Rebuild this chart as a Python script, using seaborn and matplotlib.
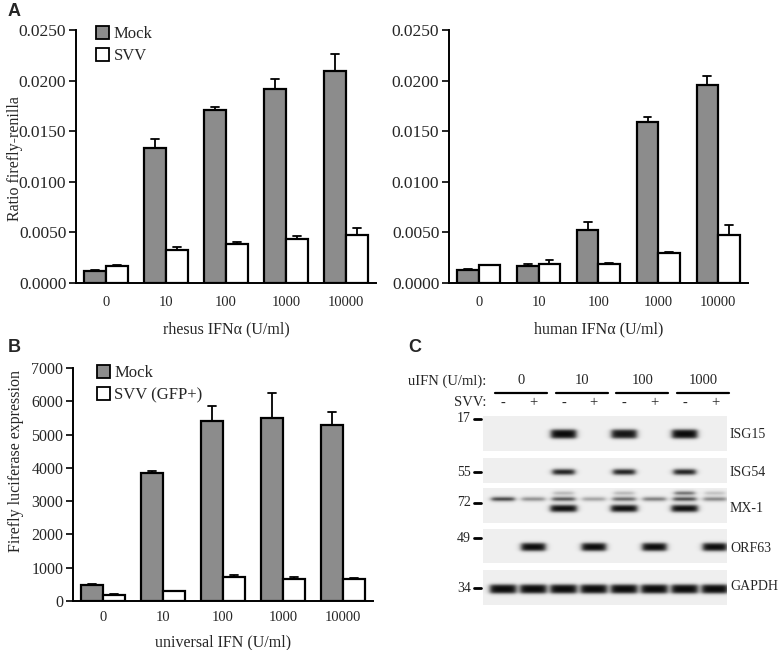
import numpy as np
import pandas as pd
import matplotlib
matplotlib.use("Agg")
import matplotlib.pyplot as plt
import seaborn as sns
from matplotlib.patches import Patch

# ---------------- data ----------------
doses = ["0", "10", "100", "1000", "10000"]

rhesus_mock = [0.00122, 0.01336, 0.01712, 0.01920, 0.02091]
rhesus_mock_err = [0.00003, 0.00085, 0.00029, 0.00098, 0.00168]
rhesus_svv = [0.00172, 0.00323, 0.00386, 0.00435, 0.00475]
rhesus_svv_err = [0.00006, 0.00030, 0.00016, 0.00030, 0.00066]

human_mock = [0.00132, 0.00168, 0.00524, 0.01593, 0.01953]
human_mock_err = [0.00003, 0.00017, 0.00080, 0.00043, 0.00088]
human_svv = [0.00178, 0.00191, 0.00191, 0.00294, 0.00478]
human_svv_err = [0.00003, 0.00040, 0.00004, 0.00016, 0.00099]

univ_mock = [480, 3840, 5400, 5500, 5300]
univ_mock_err = [40, 60, 450, 740, 370]
univ_svv = [180, 290, 710, 660, 650]
univ_svv_err = [20, 20, 60, 60, 30]

blot_ifn = ["0", "10", "100", "1000"]
blot_svv = ["-", "+", "-", "+", "-", "+", "-", "+"]
blot_markers = ["17", "55", "72", "49", "34"]
blot_proteins = ["ISG15", "ISG54", "MX-1", "ORF63", "GAPDH"]
isg15 = [0, 0, 1.0, 0, 0.95, 0, 1.0, 0]
isg54 = [0, 0, 0.95, 0, 0.95, 0, 0.95, 0]
mx1_lower = [0, 0, 1.0, 0, 1.0, 0, 1.0, 0]
mx1_mid = [0.9, 0.5, 0.8, 0.4, 0.7, 0.6, 0.85, 0.55]
mx1_top = [0, 0, 0.3, 0, 0.3, 0, 0.7, 0.25]
orf63 = [0, 1.0, 0, 1.0, 0, 1.0, 0, 1.0]
gapdh = [1.0] * 8

# ---------------- style ----------------
sns.set_theme(style="ticks")
plt.rcParams["font.family"] = ["Liberation Serif", "DejaVu Serif"]

W, H = 780, 650
fig = plt.figure(figsize=(7.8, 6.5), dpi=100)


def px_axes(x0, y0, x1, y1):
    return fig.add_axes([x0 / W, 1 - y1 / H, (x1 - x0) / W, (y1 - y0) / H])


MOCK_C = "#8c8c8c"


def bar_panel(ax, mock, mock_err, svv, svv_err, svv_label, ylim, yticks, yfmt,
              ylabel, xlabel, ytick_size, xtick_size, ylab_pos, xlab_y, xpad,
              leg_anchor):
    df = pd.DataFrame({
        "dose": doses * 2,
        "cond": ["Mock"] * len(doses) + [svv_label] * len(doses),
        "value": list(mock) + list(svv),
    })
    sns.barplot(data=df, x="dose", y="value", hue="cond", order=doses,
                hue_order=["Mock", svv_label],
                palette={"Mock": MOCK_C, svv_label: "white"}, saturation=1,
                edgecolor="black", linewidth=1.6, width=0.72, errorbar=None,
                legend=False, ax=ax)
    cap = 0.065
    for cont, errs in zip(ax.containers, [mock_err, svv_err]):
        for bar, e in zip(cont, errs):
            cx = bar.get_x() + bar.get_width() / 2
            top = bar.get_height()
            ax.plot([cx, cx], [top, top + e], color="black", lw=1.3,
                    zorder=4, clip_on=False, solid_capstyle="butt")
            ax.plot([cx - cap, cx + cap], [top + e, top + e], color="black",
                    lw=1.3, zorder=4, clip_on=False)
    ax.set_xlim(-0.5, len(doses) - 0.5)
    ax.set_ylim(*ylim)
    ax.set_yticks(yticks)
    ax.set_yticklabels([yfmt.format(v) for v in yticks], fontsize=ytick_size)
    ax.set_xticks(range(len(doses)))
    ax.set_xticklabels(doses, fontsize=xtick_size)
    ax.tick_params(axis="x", length=0, pad=xpad)
    ax.tick_params(axis="y", length=5, width=1.2, pad=2, color="black")
    for s in ["top", "right"]:
        ax.spines[s].set_visible(False)
    for s in ["left", "bottom"]:
        ax.spines[s].set_linewidth(1.4)
        ax.spines[s].set_color("black")
    ax.set_ylabel(ylabel, fontsize=11.5)
    ax.yaxis.set_label_coords(*ylab_pos)
    ax.set_xlabel(xlabel, fontsize=11.5)
    ax.xaxis.set_label_coords(0.5, xlab_y)
    if leg_anchor is not None:
        handles = [Patch(facecolor=MOCK_C, edgecolor="black", linewidth=1.3),
                   Patch(facecolor="white", edgecolor="black", linewidth=1.3)]
        ax.legend(handles, ["Mock", svv_label], loc="upper left",
                  bbox_to_anchor=leg_anchor, frameon=False, fontsize=12,
                  handlelength=0.8, handleheight=0.8, handletextpad=0.25,
                  labelspacing=0.35, borderpad=0, borderaxespad=0)


axA1 = px_axes(76, 30, 376, 283)
bar_panel(axA1, rhesus_mock, rhesus_mock_err, rhesus_svv, rhesus_svv_err, "SVV",
          (0, 0.025), [0, 0.005, 0.01, 0.015, 0.02, 0.025], "{:.4f}",
          "Ratio firefly-renilla", "rhesus IFNα (U/ml)", 12.5, 10.5,
          (-0.178, 0.49), -0.15, 9, (0.067, 1.015))

axA2 = px_axes(449, 30, 748, 283)
bar_panel(axA2, human_mock, human_mock_err, human_svv, human_svv_err, "SVV",
          (0, 0.025), [0, 0.005, 0.01, 0.015, 0.02, 0.025], "{:.4f}",
          "", "human IFNα (U/ml)", 12.5, 10.5,
          (-0.178, 0.49), -0.15, 9, None)

axB = px_axes(73, 368, 373, 601)
bar_panel(axB, univ_mock, univ_mock_err, univ_svv, univ_svv_err, "SVV (GFP+)",
          (0, 7000), list(range(0, 7001, 1000)), "{:d}",
          "Firefly luciferase expression", "universal IFN (U/ml)", 11.5, 10.5,
          (-0.162, 0.6), -0.145, 7, (0.08, 1.012))

# panel letters
for lab, x, y in [("A", 8, 3), ("B", 8, 339), ("C", 408, 339)]:
    fig.text(x / W, 1 - y / H, lab, ha="left", va="top", fontsize=13,
             fontweight="bold", family=["Liberation Sans", "DejaVu Sans"])

# ---------------- western blot panel ----------------
axC = fig.add_axes([400 / W, 0, 380 / W, 330 / H])
axC.set_xlim(400, 780)
axC.set_ylim(650, 320)
axC.axis("off")

lane_x = 503 + 30.3 * np.arange(len(blot_svv))
strip_x = (483, 727)
strips = [(416, 451), (458, 483), (488, 523), (529, 563), (570, 605)]
bands = [  # strip index, y centre, intensities, width, height
    (0, 434, isg15, 25, 8.5),
    (1, 472, isg54, 22, 5.0),
    (2, 508.5, mx1_lower, 26, 6.5),
    (2, 499, mx1_mid, 23, 3.0),
    (2, 493, mx1_top, 20, 2.5),
    (3, 547, orf63, 24, 7.5),
    (4, 589, gapdh, 26, 8.5),
]
res = 3
bg = 0.94
for si, (y0, y1) in enumerate(strips):
    xs = np.linspace(strip_x[0], strip_x[1], int((strip_x[1] - strip_x[0]) * res))
    ys = np.linspace(y0, y1, int((y1 - y0) * res))
    X, Y = np.meshgrid(xs, ys)
    dark = np.zeros_like(X)
    for (s, yc, inten, w, h) in bands:
        if s != si:
            continue
        for lx, a in zip(lane_x, inten):
            if a <= 0:
                continue
            hp = 1 / (1 + np.exp((np.abs(X - lx) - w / 2) / 1.6))
            vp = 1 / (1 + np.exp((np.abs(Y - yc) - h / 2) / 0.9))
            dark += a * hp * vp
    img = bg - (bg - 0.03) * np.clip(dark, 0, 1)
    axC.imshow(img, cmap="gray", vmin=0, vmax=1, aspect="auto",
               extent=(strip_x[0], strip_x[1], y1, y0), interpolation="bilinear",
               zorder=1)

fs = 10.5
axC.text(486, 381, "uIFN (U/ml):", ha="right", va="center", fontsize=fs)
for g, lab in enumerate(blot_ifn):
    mid = (lane_x[2 * g] + lane_x[2 * g + 1]) / 2 + 3
    axC.text(mid, 381, lab, ha="center", va="center", fontsize=fs)
    axC.plot([mid - 26, mid + 26], [393, 393], color="black", lw=1.6)
axC.text(486, 403, "SVV:", ha="right", va="center", fontsize=fs)
for lx, sgn in zip(lane_x, blot_svv):
    axC.text(lx, 403, sgn, ha="center", va="center", fontsize=fs)

marker_y = [419, 472, 503, 538, 588]
for m, my in zip(blot_markers, marker_y):
    axC.text(471, my, m, ha="right", va="center", fontsize=10)
    axC.plot([474, 480.5], [my, my], color="black", lw=2)

protein_y = [434, 472, 508, 549, 587]
for p, py in zip(blot_proteins, protein_y):
    axC.text(730, py, p, ha="left", va="center", fontsize=10)

fig.savefig("out.png", dpi=100)
